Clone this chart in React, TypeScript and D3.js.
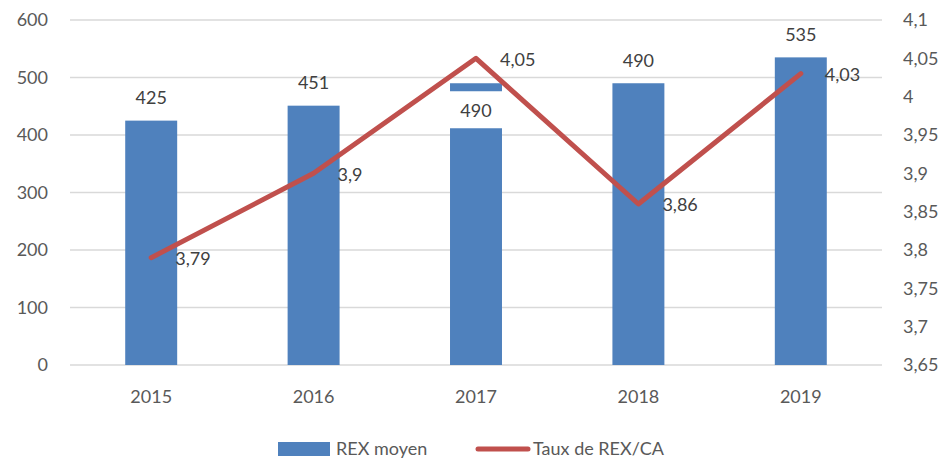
import * as d3 from 'd3';
import React from 'react';
import { useEffect, useRef } from 'react';

const years = ['2015', '2016', '2017', '2018', '2019'];
const rexMoyen = [425, 451, 490, 490, 535];
const tauxRex = [3.79, 3.9, 4.05, 3.86, 4.03];
const leftTicks = [0, 100, 200, 300, 400, 500, 600];
const rightTicks = [3.65, 3.7, 3.75, 3.8, 3.85, 3.9, 3.95, 4, 4.05, 4.1];
const legendLabels = ['REX moyen', 'Taux de REX/CA'];

const width = 947;
const height = 459;
const font = 'Lato, "Open Sans", sans-serif';
const blue = '#4F81BD';
const red = '#C0504D';
const fmt = (v: number) => String(+v.toFixed(2)).replace('.', ',');

const App = () => {
    const svgRef = useRef<SVGSVGElement>(null);

    useEffect(() => {
        const svg = d3.select(svgRef.current);
        svg.selectAll('*').remove();

        const x = d3.scaleBand().domain(years).range([70, 882]).paddingInner(0.68).paddingOuter(0.34);
        const yLeft = d3.scaleLinear().domain([0, 600]).range([365, 20]);
        const yRight = d3.scaleLinear().domain([3.65, 4.1]).range([365, 20]);

        // grid
        svg.append('g')
            .selectAll('line')
            .data(leftTicks)
            .join('line')
            .attr('x1', 70)
            .attr('x2', 882)
            .attr('y1', d => yLeft(d))
            .attr('y2', d => yLeft(d))
            .attr('stroke', '#D9D9D9')
            .attr('stroke-width', 1.3);

        // left axis
        svg.append('g')
            .selectAll('text')
            .data(leftTicks)
            .join('text')
            .attr('x', 48)
            .attr('y', d => yLeft(d))
            .attr('dy', '0.35em')
            .attr('text-anchor', 'end')
            .attr('font-family', font)
            .attr('font-size', 18)
            .attr('fill', '#595959')
            .text(d => d);

        // right axis
        svg.append('g')
            .selectAll('text')
            .data(rightTicks)
            .join('text')
            .attr('x', 903)
            .attr('y', d => yRight(d))
            .attr('dy', '0.35em')
            .attr('font-family', font)
            .attr('font-size', 18)
            .attr('fill', '#595959')
            .text(d => fmt(d));

        // x axis labels
        svg.append('g')
            .selectAll('text')
            .data(years)
            .join('text')
            .attr('x', d => x(d)! + x.bandwidth() / 2)
            .attr('y', 397)
            .attr('dy', '0.35em')
            .attr('text-anchor', 'middle')
            .attr('font-family', font)
            .attr('font-size', 18)
            .attr('fill', '#595959')
            .text(d => d);

        // bars
        svg.append('g')
            .selectAll('rect')
            .data(rexMoyen)
            .join('rect')
            .attr('x', (d, i) => x(years[i])!)
            .attr('width', x.bandwidth())
            .attr('y', d => yLeft(d))
            .attr('height', d => yLeft(0) - yLeft(d))
            .attr('fill', blue);

        // bar labels (2017 label sits inside the bar on a white box)
        const barLabels = svg.append('g');
        rexMoyen.forEach((v, i) => {
            const cx = x(years[i])! + x.bandwidth() / 2;
            if (i === 2) {
                barLabels.append('rect')
                    .attr('x', cx - 30)
                    .attr('y', yLeft(v) + 8)
                    .attr('width', 60)
                    .attr('height', 37)
                    .attr('fill', '#fff');
                barLabels.append('text')
                    .attr('x', cx)
                    .attr('y', yLeft(v) + 27)
                    .attr('dy', '0.35em')
                    .attr('text-anchor', 'middle')
                    .attr('font-family', font)
                    .attr('font-size', 18)
                    .attr('fill', '#404040')
                    .text(v);
            } else {
                barLabels.append('text')
                    .attr('x', cx)
                    .attr('y', yLeft(v) - 23)
                    .attr('dy', '0.35em')
                    .attr('text-anchor', 'middle')
                    .attr('font-family', font)
                    .attr('font-size', 18)
                    .attr('fill', '#404040')
                    .text(v);
            }
        });

        // line
        const line = d3.line<number>()
            .x((d, i) => x(years[i])! + x.bandwidth() / 2)
            .y(d => yRight(d));

        svg.append('path')
            .datum(tauxRex)
            .attr('fill', 'none')
            .attr('stroke', red)
            .attr('stroke-width', 5)
            .attr('stroke-linejoin', 'round')
            .attr('stroke-linecap', 'round')
            .attr('d', line);

        svg.append('g')
            .selectAll('text')
            .data(tauxRex)
            .join('text')
            .attr('x', (d, i) => x(years[i])! + x.bandwidth() / 2 + 24)
            .attr('y', d => yRight(d) + 1)
            .attr('dy', '0.35em')
            .attr('font-family', font)
            .attr('font-size', 18)
            .attr('fill', '#404040')
            .text(d => fmt(d));

        // legend
        const legend = svg.append('g');
        legend.append('rect')
            .attr('x', 278).attr('y', 442).attr('width', 52).attr('height', 14)
            .attr('fill', blue);
        legend.append('text')
            .attr('x', 336).attr('y', 449).attr('dy', '0.35em')
            .attr('font-family', font).attr('font-size', 18).attr('fill', '#595959')
            .text(legendLabels[0]);
        legend.append('line')
            .attr('x1', 478).attr('x2', 528).attr('y1', 449).attr('y2', 449)
            .attr('stroke', red).attr('stroke-width', 5).attr('stroke-linecap', 'round');
        legend.append('text')
            .attr('x', 533).attr('y', 449).attr('dy', '0.35em')
            .attr('font-family', font).attr('font-size', 18).attr('fill', '#595959')
            .text(legendLabels[1]);
    }, []);

    return (
        <div style={{ position: 'absolute', left: 0, top: 0 }}>
            <svg ref={svgRef} width={width} height={height} style={{ display: 'block', background: '#fff' }} />
        </div>
    );
};

export default App;
